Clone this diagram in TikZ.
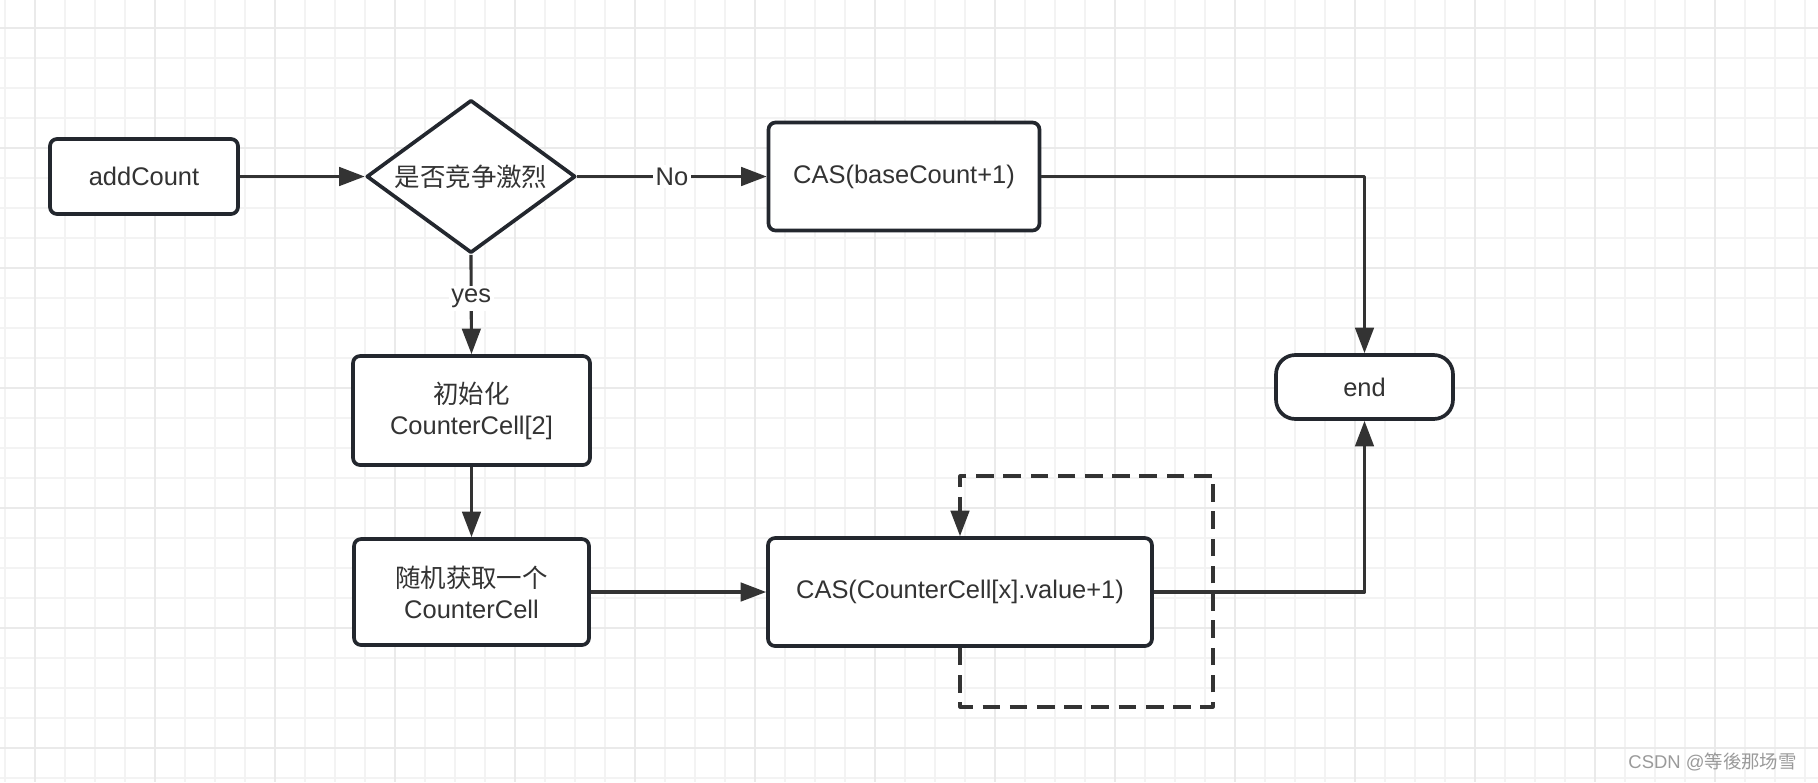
\documentclass[tikz,border=0pt]{standalone}
\usepackage{fontspec}
\setmainfont{Liberation Sans}
\newfontfamily\cjk{Noto Sans CJK SC}
\usetikzlibrary{arrows.meta,shapes.geometric}
\definecolor{ink}{HTML}{333333}
\definecolor{edge}{HTML}{23272E}
\definecolor{gridminor}{HTML}{F3F3F3}
\definecolor{gridmajor}{HTML}{EAEAEA}
\definecolor{wmark}{HTML}{9A9A9A}
\begin{document}
\begin{tikzpicture}[x=0.02cm, y=-0.02cm, font=\fontsize{14.5}{17.6}\selectfont, text=ink,
  line join=round, >={Triangle[length=14.5pt,width=10.5pt]},
  box/.style={draw=edge, line width=2.1pt, rounded corners=4pt, fill=white, align=center, inner sep=0pt},
  flow/.style={draw=ink, line width=1.8pt, ->},
  dashloop/.style={flow, dash pattern=on 10pt off 5.5pt},
  lbl/.style={fill=white, inner sep=1.5pt}]
\useasboundingbox (0,0) rectangle (1818,782);
\fill[white] (0,0) rectangle (1818,782);
% grid
\foreach \gx in {5,35,...,1815} \draw[gridminor, line width=1.1pt] (\gx,0)--(\gx,782);
\foreach \gy in {28,58,...,782} \draw[gridminor, line width=1.1pt] (0,\gy)--(1818,\gy);
\foreach \gx in {35,155,...,1815} \draw[gridmajor, line width=1.3pt] (\gx,0)--(\gx,782);
\foreach \gy in {28,148,...,782} \draw[gridmajor, line width=1.3pt] (0,\gy)--(1818,\gy);
% nodes
\node[box, minimum width=3.76cm, minimum height=1.5cm] (add) at (144,176.5) {addCount};
\node[box, diamond, rounded corners=0pt, shape aspect=1.36, minimum width=4.18cm, minimum height=3.06cm] (race) at (471,176.5) {\cjk 是否竞争激烈};
\node[box, minimum width=5.42cm, minimum height=2.16cm] (casbase) at (904,176.5) {CAS(baseCount+1)};
\node[box, minimum width=4.74cm, minimum height=2.18cm] (init) at (471.5,410.5) {{\cjk 初始化}\\CounterCell[2]};
\node[box, minimum width=4.7cm, minimum height=2.12cm] (pick) at (471.5,592) {{\cjk 随机获取一个}\\CounterCell};
\node[box, minimum width=7.68cm, minimum height=2.16cm] (casx) at (960,592) {CAS(CounterCell[x].value+1)};
\node[box, rounded corners=11pt, minimum width=3.54cm, minimum height=1.28cm] (end) at (1364.5,387) {end};
\coordinate (loopbr) at (1213,707);
\coordinate (looptr) at (1213,476);
% connectors
\draw[flow] (add.east)--(race.west);
\draw[flow] (race.east)--(casbase.west) node[lbl, midway]{No};
\draw[flow] (race.south)--(init.north) node[lbl, pos=0.44]{yes};
\draw[flow] (init.south)--(pick.north);
\draw[flow] (pick.east)--(casx.west);
\draw[flow] (casbase.east)-|(end.north);
\draw[flow] (casx.east)-|(end.south);
\draw[dashloop] (casx.south)|-(loopbr)--(looptr)-|(casx.north);
\node[text=wmark, font=\fontsize{10.5}{12}\selectfont, anchor=east] (mark) at (1803,762) {CSDN @{\cjk 等後那场雪}};
\end{tikzpicture}
\end{document}
